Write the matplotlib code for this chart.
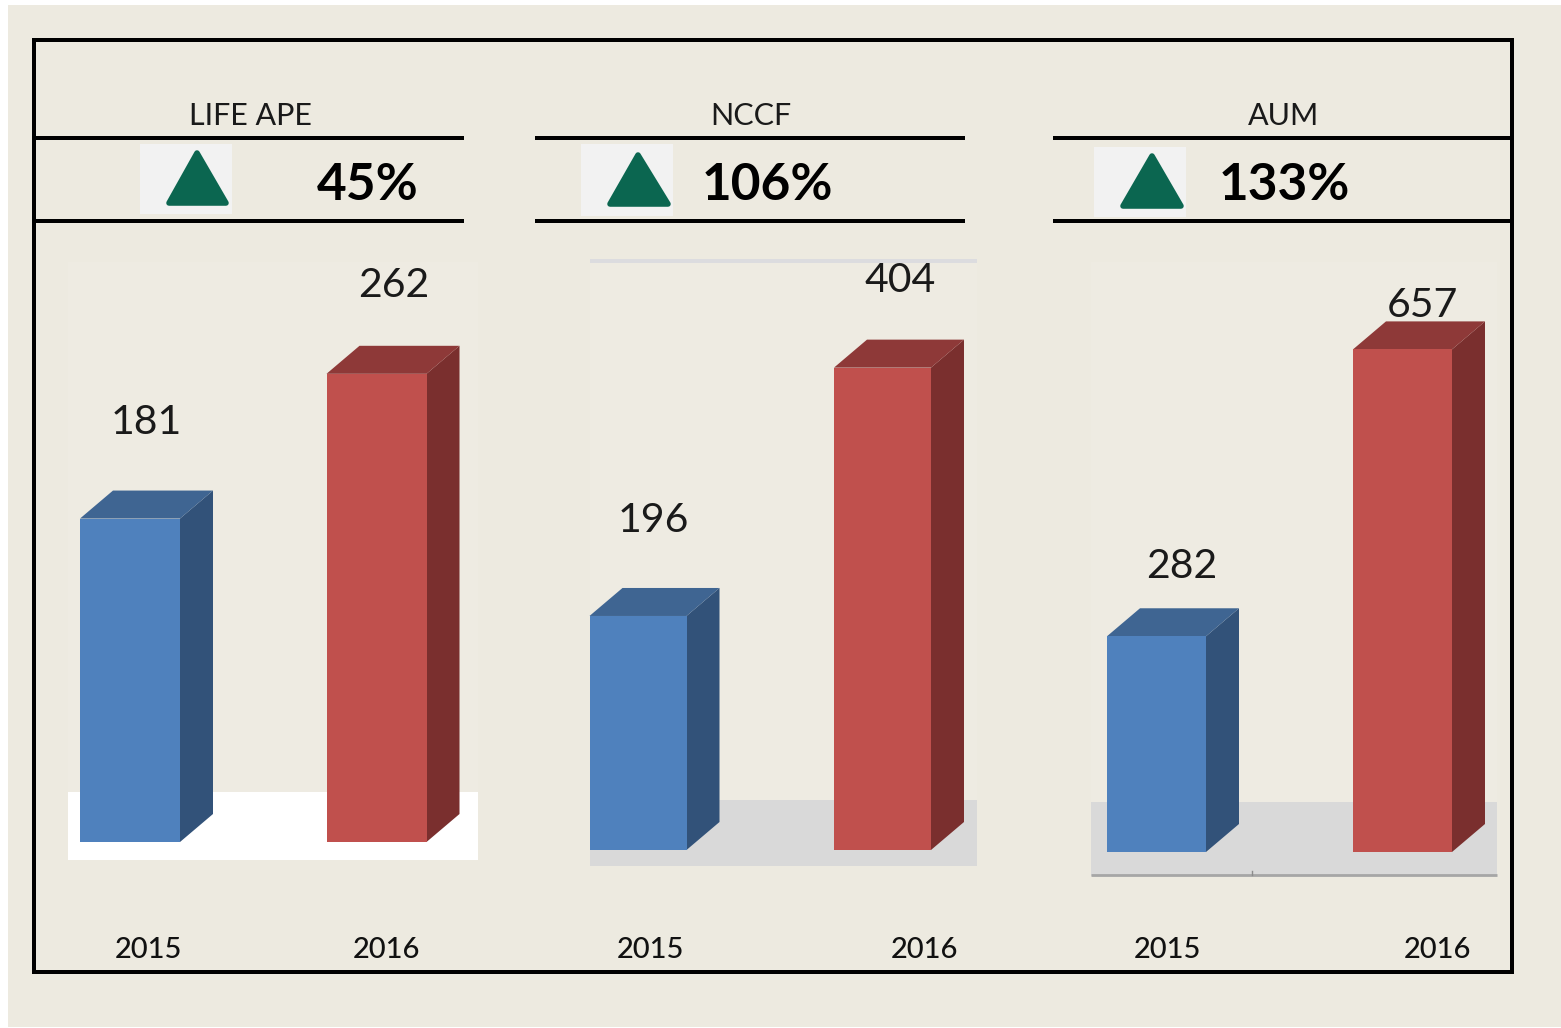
import matplotlib
matplotlib.use("Agg")
import matplotlib.pyplot as plt
from matplotlib.patches import Polygon, Rectangle

plt.rcParams['font.family'] = ['Lato', 'DejaVu Sans']

W, H = 1561, 1028
BG = '#edeae0'

# ---- data ----
panels = ['LIFE APE', 'NCCF', 'AUM']
years = ['2015', '2016']
values_life = [181, 262]
values_nccf = [196, 404]
values_aum = [282, 657]
growth = ['45%', '106%', '133%']

# ---- layout (pixels) ----
series = [values_life, values_nccf, values_aum]
layout = [
    dict(centers=(130, 376.5), width=100, base=842, scale=1.787, rect=(68, 262, 478, 860)),
    dict(centers=(638, 882.5), width=97, base=850, scale=1.194, rect=(590, 262, 977, 866)),
    dict(centers=(1156.5, 1402.5), width=99, base=852, scale=0.765, rect=(1091, 262, 1497, 876)),
]
value_offsets = [[(16, 96), (17.5, 88)], [(15, 95), (18, 87)], [(25, 70), (20, 44)]]
year_x = [(148, 387), (650, 925), (1167, 1438)]
header_x = [250, 751, 1284]
growth_x = [368, 767, 1284]
rule_x = [(34, 464), (535, 965), (1053, 1510)]
icons = [
    dict(box=(140, 144, 232, 214), tri=((197, 153), (169, 203), (226, 203))),
    dict(box=(581, 144, 673, 216), tri=((638, 155), (610, 204), (668, 204))),
    dict(box=(1094, 147, 1186, 217), tri=((1152, 156), (1123, 206), (1181, 206))),
]
floors = [
    dict(y=(792, 860), color='white'),
    dict(y=(800, 866), color='#d9d9d9'),
    dict(y=(802, 876), color='#d9d9d9'),
]
DX, DY = 33, 28
colors = [dict(front='#4f81bd', top='#3f6592', side='#325279'),
          dict(front='#c0504d', top='#8e3938', side='#7a2f2e')]

fig = plt.figure(figsize=(W / 100, H / 100), dpi=100, facecolor='white')
px = fig.add_axes([0, 0, 1, 1])
px.set_xlim(0, W)
px.set_ylim(H, 0)
px.axis('off')
lw4 = 4 * 0.72

px.add_patch(Rectangle((8, 5), W - 8, 1022, fc=BG, ec='none'))

# Barely lighter plot-area rectangles
for lay in layout:
    x0, y0, x1, y1 = lay['rect']
    px.add_patch(Rectangle((x0, y0), x1 - x0, y1 - y0, fc='#eeebe2', ec='none'))

# Floors
for lay, fl in zip(layout, floors):
    x0, _, x1, _ = lay['rect']
    px.add_patch(Rectangle((x0, fl['y'][0]), x1 - x0, fl['y'][1] - fl['y'][0], fc=fl['color'], ec='none'))
px.plot([1091, 1497], [875, 875], color='#a6a6a6', lw=2, solid_capstyle='butt')
px.plot([1252, 1252], [871, 875], color='#8c8c8c', lw=1)
px.plot([590, 977], [261, 261], color='#dcdcdf', lw=lw4, solid_capstyle='butt')

# Outer frame and rules
px.add_patch(Rectangle((34, 40), 1478, 932, fc='none', ec='black', lw=lw4, joinstyle='miter'))
for (a, b) in rule_x:
    for y in (137.5, 221):
        px.plot([a, b], [y, y], color='black', lw=lw4, solid_capstyle='butt')

# Headers, icons, growth
for name, hx, g, gx, ic in zip(panels, header_x, growth, growth_x, icons):
    px.text(hx, 116, name, ha='center', va='center', fontsize=22, color='#1a1a1a')
    bx0, by0, bx1, by1 = ic['box']
    px.add_patch(Rectangle((bx0, by0), bx1 - bx0, by1 - by0, fc='#f2f2f2', ec='none'))
    px.add_patch(Polygon(ic['tri'], closed=True, fc='#0b6650', ec='#0b6650', lw=4, joinstyle='round'))
    px.text(gx, 186, g, ha='center', va='center', fontsize=37, fontweight='bold', color='black')

# Bars
for vals, lay, offs, yx in zip(series, layout, value_offsets, year_x):
    x0, y0, x1, y1 = lay['rect']
    sp = lay['centers'][1] - lay['centers'][0]
    ax = fig.add_axes([x0 / W, 1 - y1 / H, (x1 - x0) / W, (y1 - y0) / H])
    ax.set_xlim((x0 - lay['centers'][0]) / sp, (x1 - lay['centers'][0]) / sp)
    ax.set_ylim((lay['base'] - y1) / lay['scale'], (lay['base'] - y0) / lay['scale'])
    ax.axis('off')
    w = lay['width'] / sp
    dx = DX / sp
    dy = DY / lay['scale']
    for i, v in enumerate(vals):
        c = colors[i]
        ax.bar(i, v, width=w, color=c['front'], zorder=3)
        r = i + w / 2
        l = i - w / 2
        ax.add_patch(Polygon([(r, 0), (r + dx, dy), (r + dx, v + dy), (r, v)], fc=c['side'], ec='none',
                             zorder=2, clip_on=False))
        ax.add_patch(Polygon([(l, v), (l + dx, v + dy), (r + dx, v + dy), (r, v)], fc=c['top'], ec='none',
                             zorder=2, clip_on=False))
        ox, oy = offs[i]
        ax.annotate(str(v), (i, v), xytext=(ox * 0.72, oy * 0.72), textcoords='offset points',
                    ha='center', va='center', fontsize=29.5, color='#1a1a1a', zorder=5, annotation_clip=False)
        # year labels share the figure's pixel row below the chart
        px.text(yx[i], 950, years[i], ha='center', va='center', fontsize=21, color='#111111',
                fontweight='medium')

fig.savefig('out.png', dpi=100, facecolor=fig.get_facecolor())
